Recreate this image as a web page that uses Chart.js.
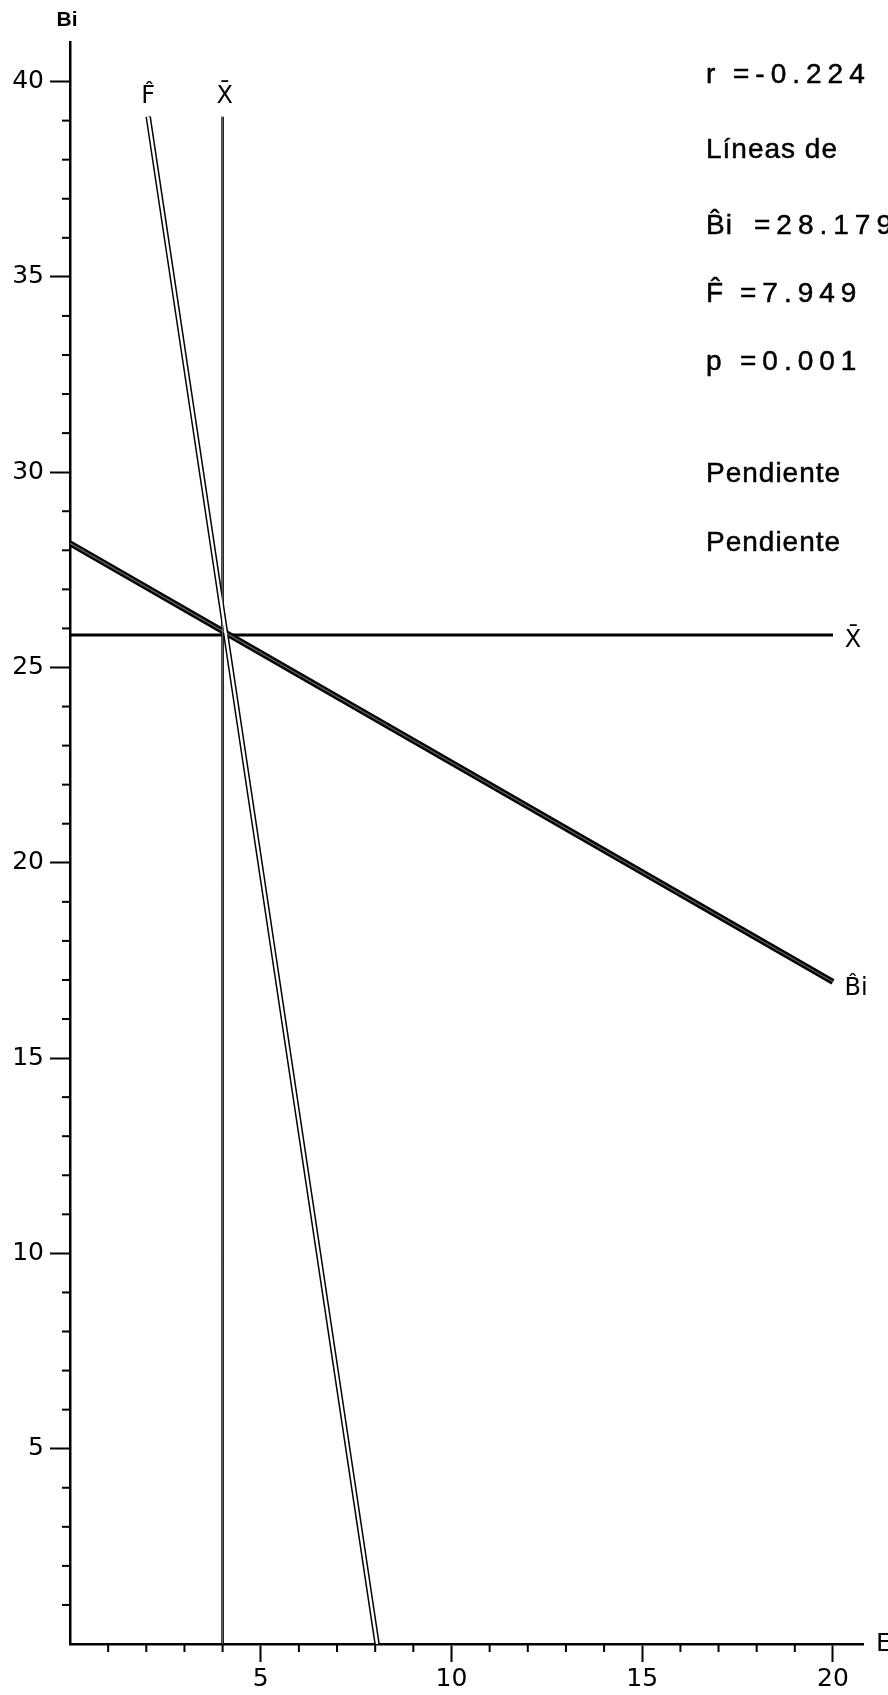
<!DOCTYPE html>
<html><head><meta charset="utf-8">
<script src="https://cdn.jsdelivr.net/npm/chart.js@4/dist/chart.umd.min.js"></script>
<style>html,body{margin:0;padding:0;background:#fff;overflow:hidden}#wrap{width:888px;height:1695px;position:relative}</style>
</head><body><div id="wrap"><canvas id="c" width="888" height="1695"></canvas></div>
<script>
// ---- data ----
const xTickLabels = [5, 10, 15, 20];
const yTickLabels = [5, 10, 15, 20, 25, 30, 35, 40];
const xMax = 20.8;
const yMax = 41;
// mean of E (vertical X̄ line)
const meanE_x = [4.0, 4.0];
const meanE_y = [0, 39.1];
// mean of Bi (horizontal X̄ line)
const meanBi_x = [0, 20];
const meanBi_y = [25.83, 25.83];
// regression Bi on E
const biHat_x = [0, 20];
const biHat_y = [28.18, 16.95];
// regression E on Bi
const fHat_x = [2.05, 8.05];
const fHat_y = [39.1, 0];
// statistics text block
const statNames = ['r', 'Líneas de', 'B̂i', 'F̂', 'p', 'Pendiente', 'Pendiente'];
const statValues = ['=-0.224', '', '=28.179', '=7.949', '=0.001', '', ''];

const pts = (xs, ys) => xs.map((x, i) => ({x: x, y: ys[i]}));
const line = (xs, ys, color, w, order) => ({
  data: pts(xs, ys), borderColor: color, borderWidth: w, showLine: true,
  pointRadius: 0, fill: false, order: order, tension: 0
});

const FONT = '"DejaVu Sans", sans-serif';
const LFONT = '"Liberation Sans", Arial, sans-serif';

function heavyText(ctx, s, x, y) {
  ctx.fillText(s, x, y);
  ctx.strokeText(s, x, y);
}

const decor = {
  id: 'decor',
  afterDraw(chart) {
    const ctx = chart.ctx;
    const xs = chart.scales.x, ys = chart.scales.y;
    const x0 = xs.getPixelForValue(0), y0 = ys.getPixelForValue(0);
    ctx.save();
    ctx.strokeStyle = '#000';
    ctx.lineWidth = 2;
    // minor ticks
    for (let v = 1; v <= 20; v++) {
      if (v % 5 === 0) continue;
      const px = xs.getPixelForValue(v);
      ctx.beginPath(); ctx.moveTo(px, y0); ctx.lineTo(px, y0 + 8); ctx.stroke();
    }
    for (let v = 1; v <= 40; v++) {
      if (v % 5 === 0) continue;
      const py = ys.getPixelForValue(v);
      ctx.beginPath(); ctx.moveTo(x0, py); ctx.lineTo(x0 - 8, py); ctx.stroke();
    }
    ctx.fillStyle = '#000';
    ctx.lineWidth = 0.5;
    // axis titles
    ctx.textAlign = 'center'; ctx.textBaseline = 'middle';
    ctx.font = 'bold 21px ' + LFONT;
    ctx.fillText('Bi', 67, 20);
    ctx.textAlign = 'left';
    ctx.font = '25px ' + FONT;
    ctx.fillText('E', 876, y0);
    // line labels
    ctx.textAlign = 'center';
    ctx.font = '24px ' + FONT;
    ctx.fillText('F̂', xs.getPixelForValue(fHat_x[0]), 97);
    ctx.fillText('X̄', xs.getPixelForValue(meanE_x[0]) + 2, 97);
    ctx.fillText('X̄', 853, 641);
    ctx.fillText('B̂i', 856, 989);
    // statistics block
    const rowsY = [75, 150, 226, 294, 362, 474, 543];
    const valX = [733, 0, 754, 740, 740, 0, 0];
    ctx.textAlign = 'left';
    ctx.font = '28px ' + LFONT;
    ctx.lineWidth = 0.5;
    for (let i = 0; i < statNames.length; i++) {
      ctx.letterSpacing = '1px';
      heavyText(ctx, statNames[i], 706, rowsY[i]);
      if (statValues[i]) {
        ctx.letterSpacing = '6px';
        heavyText(ctx, statValues[i], valX[i], rowsY[i]);
      }
    }
    ctx.restore();
  }
};

new Chart(document.getElementById('c'), {
  type: 'scatter',
  data: {
    datasets: [
      line(meanBi_x, meanBi_y, '#000', 3, 10),
      line(meanE_x, meanE_y, '#000', 2.6, 10),
      line(meanE_x, meanE_y, '#888', 0.8, 1),
      line(biHat_x, biHat_y, '#000', 6, 10),
      line(biHat_x, biHat_y, '#555', 1.5, 1),
      line(fHat_x, fHat_y, '#000', 5.5, 10),
      line(fHat_x, fHat_y, '#fff', 2.5, 0)
    ]
  },
  options: {
    responsive: false,
    animation: false,
    devicePixelRatio: 1,
    layout: {padding: {left: 0, top: 42.5, right: 24.5, bottom: 0}},
    plugins: {legend: {display: false}, tooltip: {enabled: false}},
    scales: {
      x: {
        type: 'linear', min: 0, max: xMax,
        afterBuildTicks: s => { s.ticks = xTickLabels.map(v => ({value: v})); },
        afterFit: s => { s.height = 51; },
        grid: {drawOnChartArea: false, drawTicks: true, tickLength: 18, tickColor: '#000', tickWidth: 2},
        border: {display: true, color: '#000', width: 2.5},
        ticks: {color: '#000', font: {family: 'DejaVu Sans', size: 25}, padding: 2, maxRotation: 0, autoSkip: false}
      },
      y: {
        type: 'linear', min: 0, max: yMax,
        afterBuildTicks: s => { s.ticks = yTickLabels.map(v => ({value: v})); },
        afterFit: s => { s.width = 70; },
        grid: {drawOnChartArea: false, drawTicks: true, tickLength: 20, tickColor: '#000', tickWidth: 2},
        border: {display: true, color: '#000', width: 2.5},
        ticks: {color: '#000', font: {family: 'DejaVu Sans', size: 25}, padding: 6, autoSkip: false}
      }
    }
  },
  plugins: [decor]
});
</script>
</body></html>
